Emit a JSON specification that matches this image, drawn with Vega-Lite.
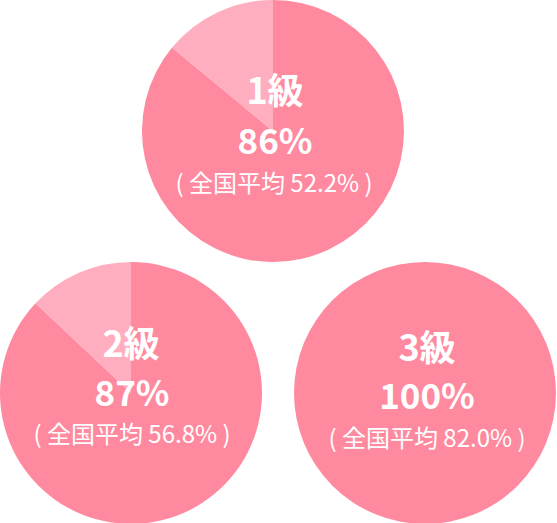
{
  "$schema": "https://vega.github.io/schema/vega-lite/v6.json",
  "padding": 0,
  "background": "white",
  "datasets": {
    "slices": [
      {"grade": "1級", "seg": "合格", "value": 86},
      {"grade": "1級", "seg": "その他", "value": 14},
      {"grade": "2級", "seg": "合格", "value": 87},
      {"grade": "2級", "seg": "その他", "value": 13},
      {"grade": "3級", "seg": "合格", "value": 100},
      {"grade": "3級", "seg": "その他", "value": 0}
    ],
    "labels": [
      {"grade": "1級", "rate": 0.86, "avg": 0.522},
      {"grade": "2級", "rate": 0.87, "avg": 0.568},
      {"grade": "3級", "rate": 1.0, "avg": 0.82}
    ]
  },
  "vconcat": [
    {
      "width": 546,
      "height": 262,
      "layer": [
        {
          "data": {"name": "slices"},
          "transform": [{"filter": "datum.grade === '1級'"}],
          "mark": {"type": "arc", "outerRadius": 131},
          "encoding": {
            "theta": {"field": "value", "type": "quantitative", "stack": true},
            "order": {"field": "value", "sort": "descending"},
            "color": {"field": "seg", "type": "nominal", "legend": null,
              "scale": {"domain": ["合格", "その他"], "range": ["#ff8aa0", "#ffaec0"]}}
          }
        },
        {
          "data": {"name": "labels"},
          "transform": [{"filter": "datum.grade === '1級'"}],
          "mark": {"type": "text", "dy": -38, "dx": 2, "fontSize": 36, "fontWeight": "bold"},
          "encoding": {"text": {"field": "grade"}}
        },
        {
          "data": {"name": "labels"},
          "transform": [{"filter": "datum.grade === '1級'"}],
          "mark": {"type": "text", "dy": 12, "dx": 2, "fontSize": 35, "fontWeight": "bold"},
          "encoding": {"text": {"field": "rate", "type": "quantitative", "format": ".0%"}}
        },
        {
          "data": {"name": "labels"},
          "transform": [
            {"filter": "datum.grade === '1級'"},
            {"calculate": "'( 全国平均 ' + format(datum.avg, '.1%') + ' )'", "as": "note"}
          ],
          "mark": {"type": "text", "dy": 54, "dx": 1, "fontSize": 24},
          "encoding": {"text": {"field": "note"}}
        }
      ]
    },
    {
      "hconcat": [
        {
          "width": 262,
          "height": 256,
          "layer": [
            {
              "data": {"name": "slices"},
              "transform": [{"filter": "datum.grade === '2級'"}],
              "mark": {"type": "arc", "outerRadius": 131},
              "encoding": {
                "theta": {"field": "value", "type": "quantitative", "stack": true},
                "order": {"field": "value", "sort": "descending"},
                "color": {"field": "seg", "type": "nominal", "legend": null,
                  "scale": {"domain": ["合格", "その他"], "range": ["#ff8aa0", "#ffaec0"]}}
              }
            },
            {
              "data": {"name": "labels"},
              "transform": [{"filter": "datum.grade === '2級'"}],
              "mark": {"type": "text", "dy": -47, "fontSize": 36, "fontWeight": "bold"},
              "encoding": {"text": {"field": "grade"}}
            },
            {
              "data": {"name": "labels"},
              "transform": [{"filter": "datum.grade === '2級'"}],
              "mark": {"type": "text", "dy": 2, "dx": 1, "fontSize": 35, "fontWeight": "bold"},
              "encoding": {"text": {"field": "rate", "type": "quantitative", "format": ".0%"}}
            },
            {
              "data": {"name": "labels"},
              "transform": [
                {"filter": "datum.grade === '2級'"},
                {"calculate": "'( 全国平均 ' + format(datum.avg, '.1%') + ' )'", "as": "note"}
              ],
              "mark": {"type": "text", "dy": 43, "dx": 1, "fontSize": 24},
              "encoding": {"text": {"field": "note"}}
            }
          ]
        },
        {
          "width": 262,
          "height": 256,
          "layer": [
            {
              "data": {"name": "slices"},
              "transform": [{"filter": "datum.grade === '3級'"}],
              "mark": {"type": "arc", "outerRadius": 131},
              "encoding": {
                "theta": {"field": "value", "type": "quantitative", "stack": true},
                "order": {"field": "value", "sort": "descending"},
                "color": {"field": "seg", "type": "nominal", "legend": null,
                  "scale": {"domain": ["合格", "その他"], "range": ["#ff8aa0", "#ffaec0"]}}
              }
            },
            {
              "data": {"name": "labels"},
              "transform": [{"filter": "datum.grade === '3級'"}],
              "mark": {"type": "text", "dy": -43, "dx": 2, "fontSize": 36, "fontWeight": "bold"},
              "encoding": {"text": {"field": "grade"}}
            },
            {
              "data": {"name": "labels"},
              "transform": [{"filter": "datum.grade === '3級'"}],
              "mark": {"type": "text", "dy": 5, "dx": 2, "fontSize": 35, "fontWeight": "bold"},
              "encoding": {"text": {"field": "rate", "type": "quantitative", "format": ".0%"}}
            },
            {
              "data": {"name": "labels"},
              "transform": [
                {"filter": "datum.grade === '3級'"},
                {"calculate": "'( 全国平均 ' + format(datum.avg, '.1%') + ' )'", "as": "note"}
              ],
              "mark": {"type": "text", "dy": 47, "dx": 2, "fontSize": 24},
              "encoding": {"text": {"field": "note"}}
            }
          ]
        }
      ],
      "spacing": 32
    }
  ],
  "spacing": 0,
  "config": {
    "view": {"stroke": null},
    "text": {"font": "Noto Sans CJK JP", "color": "white", "align": "center", "baseline": "middle"}
  }
}
